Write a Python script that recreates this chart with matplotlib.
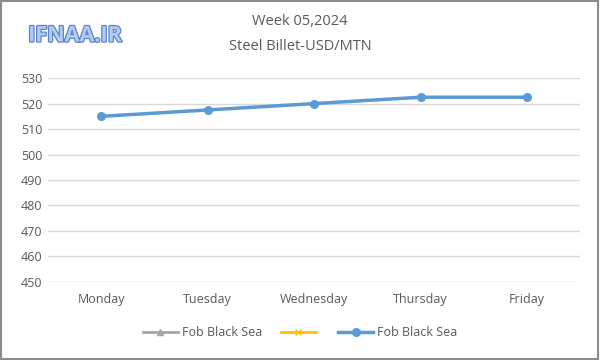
import matplotlib.pyplot as plt
import matplotlib.patheffects as pe
from matplotlib.patches import Rectangle
from matplotlib.lines import Line2D

days = ['Monday', 'Tuesday', 'Wednesday', 'Thursday', 'Friday']
fob_black_sea = [515, 517.5, 520, 522.5, 522.5]
yticks = [450, 460, 470, 480, 490, 500, 510, 520, 530]

plt.rcParams['font.family'] = ['Open Sans', 'DejaVu Sans']

fig = plt.figure(figsize=(6, 3.6), dpi=100)
ax = fig.add_axes([0.08, 0.217, 0.887, 0.566])

x = range(len(days))
ax.plot(x, fob_black_sea, color='#5B9BD5', lw=2.5, marker='o', ms=5.5, zorder=3)

ax.set_xlim(-0.5, len(days) - 0.5)
ax.set_ylim(450, 530)
ax.set_yticks(yticks)
ax.set_xticks(list(x))
ax.set_xticklabels(days)
ax.grid(axis='y', color='#d9d9d9', lw=1)
ax.set_axisbelow(True)
for s in ax.spines.values():
    s.set_visible(False)
ax.tick_params(length=0, labelsize=9, colors='#595959', pad=8)
ax.tick_params(axis='y', pad=4)

fig.text(0.5, 0.94, 'Week 05,2024', ha='center', va='center', fontsize=10.5, color='#595959')
fig.text(0.5, 0.872, 'Steel Billet-USD/MTN', ha='center', va='center', fontsize=10.5, color='#595959')

logo = fig.text(0.047, 0.9, 'IFNAA.IR', ha='left', va='center', fontsize=15.5,
                color='#b3cbee', fontweight='bold')
logo.set_path_effects([pe.withStroke(linewidth=1.8, foreground='#5a86c6')])

handles = [
    Line2D([], [], color='#a5a5a5', lw=2, marker='^', ms=5),
    Line2D([], [], color='#ffc000', lw=2, marker='x', ms=5),
    Line2D([], [], color='#5B9BD5', lw=2.5, marker='o', ms=5.5),
]
fig.legend(handles, ['Fob Black Sea', '', 'Fob Black Sea'], loc='center',
           bbox_to_anchor=(0.5, 0.075), ncol=3, frameon=False, fontsize=9,
           labelcolor='#595959', handlelength=2.8, handletextpad=0.3,
           columnspacing=1.5)

fig.patches.append(Rectangle((0.002, 0.003), 0.995, 0.994, transform=fig.transFigure,
                             fill=False, edgecolor='#8c8c8c', lw=1.5))

fig.savefig('out.png', dpi=100)
